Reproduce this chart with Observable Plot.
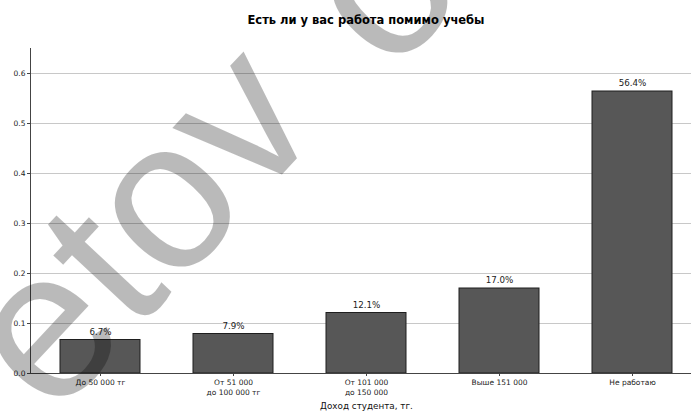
<!DOCTYPE html>
<html>
<head>
<meta charset="utf-8">
<script src="https://cdn.jsdelivr.net/npm/d3@7"></script>
<script src="https://cdn.jsdelivr.net/npm/@observablehq/plot@0.6"></script>
<style>
  html, body { margin: 0; padding: 0; background: #fff; overflow: hidden; width: 691px; height: 414px; }
  #wrap { position: relative; width: 702px; height: 414px; font-family: "DejaVu Sans", sans-serif; }
  #title { height: 34px; line-height: 40px; padding-left: 30px; text-align: center; font-weight: bold; font-size: 11.5px; color: #000; }
  #wm { position: absolute; left: 0; top: 0; pointer-events: none; }
</style>
</head>
<body>
<div id="wrap">
  <div id="title">Есть ли у вас работа помимо учебы</div>
  <div id="chart"></div>
  <svg id="wm" width="702" height="414"></svg>
</div>
<script>
const categories = ["До 50 000 тг", "От 51 000\nдо 100 000 тг", "От 101 000\nдо 150 000", "Выше 151 000", "Не работаю"];
const shares = [0.067, 0.079, 0.121, 0.170, 0.564];
const labels = ["6.7%", "7.9%", "12.1%", "17.0%", "56.4%"];
const yTicks = [0, 0.1, 0.2, 0.3, 0.4, 0.5, 0.6];
const xTitle = "Доход студента, тг.";
const watermarkMain = "etov";
const watermarkTail = "o";

const data = categories.map((c, i) => ({cat: c, v: shares[i], label: labels[i]}));

const chart = Plot.plot({
  width: 702,
  height: 380,
  marginTop: 14,
  marginBottom: 41,
  marginLeft: 30,
  marginRight: 0,
  style: {fontFamily: "DejaVu Sans, sans-serif", fontSize: "7.5px", color: "#222", background: "#fff"},
  x: {domain: categories, paddingInner: 0.4, paddingOuter: 0.226, label: null},
  y: {domain: [0, 0.65], label: null},
  marks: [
    Plot.gridY(yTicks.slice(1), {stroke: "#c8c8c8", strokeOpacity: 1, strokeWidth: 1}),
    Plot.barY(data, {x: "cat", y: "v", fill: "#575757", stroke: "#1e1e1e", strokeWidth: 1}),
    Plot.text(data, {x: "cat", y: "v", text: "label", dy: -8, fontSize: 8.7, fill: "#222"}),
    Plot.ruleY([0], {stroke: "#444", strokeWidth: 1}),
    Plot.frame({anchor: "left", stroke: "#444", strokeWidth: 1}),
    Plot.axisY(yTicks, {tickFormat: d3.format(".1f"), tickSize: 3, tickPadding: 2, fontSize: 7.5, fill: "#222", stroke: "#444", label: null}),
    Plot.axisX({tickSize: 3, tickPadding: 2, fontSize: 7.5, fill: "#222", stroke: "#444", lineHeight: 1.3, label: null}),
    Plot.text([xTitle], {frameAnchor: "bottom", dy: 35, fontSize: 8.8, fill: "#111"})
  ]
});
document.getElementById("chart").appendChild(chart);

const wm = d3.select("#wm");
const t = wm.append("text")
  .attr("transform", "translate(52.7,420.4) rotate(-47)")
  .attr("font-family", "Liberation Sans, Arial, sans-serif")
  .attr("font-size", 212)
  .attr("fill", "#000")
  .attr("fill-opacity", 0.27);
t.append("tspan").text(watermarkMain);
t.append("tspan").attr("dx", 81).attr("dy", 13).text(watermarkTail);
</script>
</body>
</html>
